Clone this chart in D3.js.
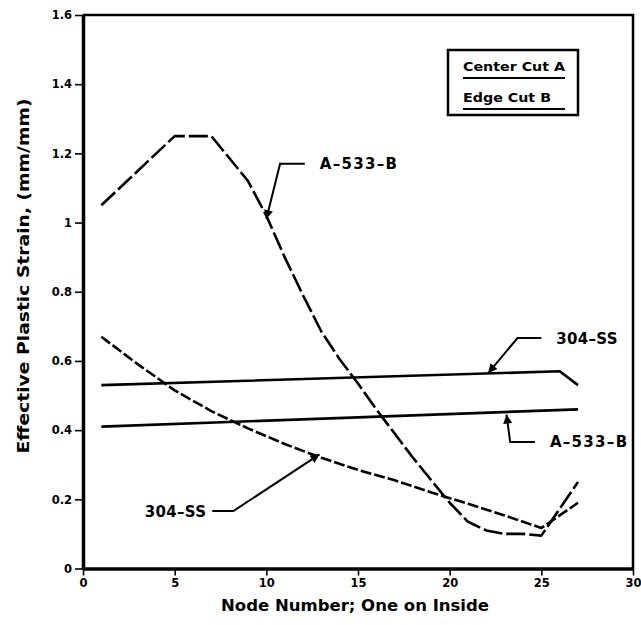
<!DOCTYPE html>
<html lang="en">
<head>
<meta charset="utf-8">
<script src="https://cdn.jsdelivr.net/npm/d3@7"></script>
<title>Effective Plastic Strain</title>
<style>
body{
margin:0;
background:#ffffff;
}
svg{
display:block;
font-family:'DejaVu Sans', 'Liberation Sans', Arial, sans-serif;
font-weight:bold;
}
</style>
</head>

<body>
<svg width="641" height="625"></svg>

<script>
// ---- data ----
// Center Cut A : dashed curves
var a533CenterNodes  = [1, 5, 7, 9, 10, 11, 12, 13, 14, 15, 16, 17, 18, 19, 20, 21, 22, 23, 24, 25, 27];
var a533CenterStrain = [1.05, 1.25, 1.25, 1.12, 1.02, 0.90, 0.79, 0.685, 0.605, 0.535, 0.46, 0.39, 0.32, 0.255, 0.19, 0.135, 0.11, 0.10, 0.10, 0.095, 0.25];

var ss304CenterNodes  = [1, 3, 5, 7, 9, 11, 13, 15, 17, 19, 21, 23, 25, 27];
var ss304CenterStrain = [0.67, 0.59, 0.515, 0.455, 0.405, 0.36, 0.32, 0.285, 0.255, 0.22, 0.187, 0.153, 0.117, 0.19];

// Edge Cut B : solid lines
var ss304EdgeNodes  = [1, 26, 27];
var ss304EdgeStrain = [0.53, 0.57, 0.53];

var a533EdgeNodes  = [1, 27];
var a533EdgeStrain = [0.41, 0.46];

var xTicks = [0, 5, 10, 15, 20, 25, 30];
var yTicks = [0, 0.2, 0.4, 0.6, 0.8, 1, 1.2, 1.4, 1.6];
var yTickLabels = ["0", "0.2", "0.4", "0.6", "0.8", "1", "1.2", "1.4", "1.6"];

var legendLabels = ["Center Cut A", "Edge Cut B"];

// callouts: label, tip [node, strain], elbow, end of leader, text side
var callouts = [
  {label:"A–533–B", tip:[10.0, 1.01], elbow:[10.75, 1.17], end:[12.1, 1.17], side:"right"},
  {label:"304–SS",  tip:[22.1, 0.565], elbow:[23.7, 0.666], end:[25.0, 0.666], side:"right"},
  {label:"A–533–B", tip:[23.1, 0.445], elbow:[23.3, 0.366], end:[24.65, 0.366], side:"right"},
  {label:"304–SS",  tip:[12.9, 0.33], elbow:[8.2, 0.166], end:[7.05, 0.166], side:"left"}
];

// ---- layout ----
var plotLeft = 83, plotRight = 633, plotTop = 15, plotBottom = 568.5;

var svg = d3.select("svg");

var x = d3.scaleLinear().domain([0, 30]).range([plotLeft, plotRight]);
var y = d3.scaleLinear().domain([0, 1.6]).range([plotBottom, plotTop]);

svg.append("rect")
.attr("width", 641).attr("height", 625)
.attr("fill", "#ffffff");

// frame (top + right)
svg.append("path")
.attr("d", "M" + plotLeft + "," + plotTop + "H" + plotRight + "V" + plotBottom)
.attr("fill", "none")
.attr("stroke", "#000")
.attr("stroke-width", 2.5);

// y axis
var yAxis = svg.append("g")
.attr("transform", "translate(" + plotLeft + ",0)")
.call(d3.axisLeft(y).tickValues(yTicks).tickSizeInner(8).tickSizeOuter(0).tickPadding(3)
  .tickFormat(function(d, i){ return yTickLabels[i]; }));

// x axis
var xAxis = svg.append("g")
.attr("transform", "translate(0," + plotBottom + ")")
.call(d3.axisBottom(x).tickValues(xTicks).tickSizeInner(7).tickSizeOuter(0).tickPadding(3)
  .tickFormat(d3.format("d")));

[yAxis, xAxis].forEach(function(g){
  g.select(".domain").attr("stroke-width", 3.5);
  g.selectAll(".tick line").attr("stroke-width", 1.6);
  g.selectAll(".tick text")
  .attr("font-size", 11.5)
  .attr("font-weight", "bold")
  .attr("font-family", "'DejaVu Sans', 'Liberation Sans', Arial, sans-serif")
  .attr("fill", "#000");
});

// axis titles
svg.append("text")
.attr("x", 355)
.attr("y", 611)
.attr("text-anchor", "middle")
.attr("font-size", 16)
.attr("textLength", 268)
.attr("lengthAdjust", "spacingAndGlyphs")
.text("Node Number; One on Inside");

svg.append("text")
.attr("transform", "translate(29,276) rotate(-90)")
.attr("text-anchor", "middle")
.attr("font-size", 16)
.attr("textLength", 355)
.attr("lengthAdjust", "spacingAndGlyphs")
.text("Effective Plastic Strain, (mm/mm)");

// ---- series ----
var line = d3.line()
.x(function(d){ return x(d[0]); })
.y(function(d){ return y(d[1]); });

function series(nodes, vals, dash){
  svg.append("path")
  .datum(d3.zip(nodes, vals))
  .attr("d", line)
  .attr("fill", "none")
  .attr("stroke", "#000")
  .attr("stroke-width", 2.6)
  .attr("stroke-linejoin", "round")
  .attr("stroke-dasharray", dash);
}

series(ss304EdgeNodes, ss304EdgeStrain, null);
series(a533EdgeNodes, a533EdgeStrain, null);
series(a533CenterNodes, a533CenterStrain, "19,4");
series(ss304CenterNodes, ss304CenterStrain, "11,3");

// ---- callouts ----
svg.append("defs").append("marker")
.attr("id", "head")
.attr("viewBox", "0 0 10 10")
.attr("refX", 10).attr("refY", 5)
.attr("markerUnits", "userSpaceOnUse")
.attr("markerWidth", 11).attr("markerHeight", 9)
.attr("orient", "auto")
.append("path")
.attr("d", "M0,0L10,5L0,10z")
.attr("fill", "#000");

callouts.forEach(function(c){
  svg.append("path")
  .datum([c.end, c.elbow, c.tip])
  .attr("d", line)
  .attr("fill", "none")
  .attr("stroke", "#000")
  .attr("stroke-width", 2)
  .attr("marker-end", "url(#head)");

  var tx = x(c.end[0]) + (c.side == "right" ? 15 : -6);
  svg.append("text")
  .attr("x", tx)
  .attr("y", y(c.end[1]) + 5.5)
  .attr("text-anchor", c.side == "right" ? "start" : "end")
  .attr("font-size", 15)
  .attr("letter-spacing", c.label.length > 6 ? 1.3 : 0.3)
  .text(c.label);
});

// ---- legend ----
var lg = svg.append("g").attr("transform", "translate(" + (plotRight - 185) + ",50)");

lg.append("rect")
.attr("width", 130).attr("height", 65)
.attr("fill", "#fff")
.attr("stroke", "#000")
.attr("stroke-width", 2.5);

legendLabels.forEach(function(t, i){
  lg.append("text")
  .attr("x", 15)
  .attr("y", 21 + i * 31)
  .attr("font-size", 13)
  .attr("textLength", i == 0 ? 102 : 88)
  .attr("lengthAdjust", "spacingAndGlyphs")
  .text(t);
  lg.append("line")
  .attr("x1", 15).attr("x2", 117)
  .attr("y1", 28 + i * 31).attr("y2", 28 + i * 31)
  .attr("stroke", "#000")
  .attr("stroke-width", 2);
});
</script>
</body>
</html>
